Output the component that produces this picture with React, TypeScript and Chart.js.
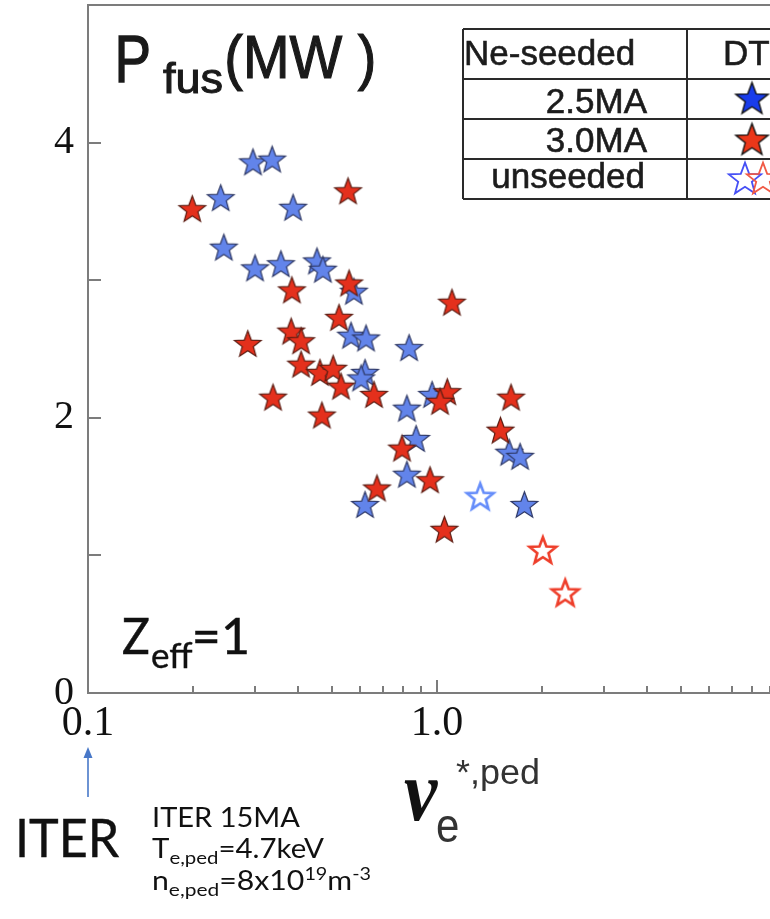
import React, { useEffect, useRef } from 'react';
import { Chart, registerables } from 'chart.js';

Chart.register(...registerables);

// ---------------- data ----------------
const seeded25X = [0.240, 0.297, 0.337, 0.387, 0.245, 0.301, 0.357, 0.453, 0.471, 0.578, 0.567, 0.626, 0.832, 0.622, 0.606, 0.820, 0.968, 0.871, 1.61, 1.73, 0.820, 0.622, 1.78];
const seeded25Y = [3.60, 3.86, 3.88, 3.53, 3.24, 3.09, 3.12, 3.14, 3.08, 2.92, 2.60, 2.58, 2.51, 2.33, 2.29, 2.07, 2.17, 1.85, 1.75, 1.72, 1.59, 1.37, 1.37];

const seeded30X = [0.199, 0.556, 0.560, 0.384, 1.104, 0.524, 0.382, 0.408, 0.287, 0.408, 0.462, 0.504, 0.531, 0.660, 0.339, 0.468, 1.07, 1.02, 1.63, 1.52, 0.794, 0.955, 0.673, 1.05];
const seeded30Y = [3.52, 3.65, 2.98, 2.93, 2.84, 2.73, 2.63, 2.56, 2.54, 2.39, 2.33, 2.36, 2.23, 2.17, 2.15, 2.02, 2.19, 2.12, 2.15, 1.91, 1.78, 1.55, 1.49, 1.19];

const unseeded25X = [1.33];
const unseeded25Y = [1.43];
const unseeded30X = [2.01, 2.33];
const unseeded30Y = [1.04, 0.73];

const xMin = 0.1;
const xMax = 10;
const yMin = 0;
const yMax = 5;
const yLabelValues = [0, 2, 4];
const yTickMarks = [1, 2, 3, 4];
const xLabelValues = [0.1, 1];
const xLabelTexts = ['0.1', '1.0'];
const xMinorTickMarks = [0.2, 0.3, 0.4, 0.5, 0.6, 0.7, 0.8, 0.9, 2, 3, 4, 5, 6, 7, 8, 9];
const xMajorTickMarks = [1];

const tableHeader = ['Ne-seeded', 'DT'];
const tableRows = ['2.5MA', '3.0MA', 'unseeded'];

// ---------------- helpers ----------------
function starPath(g: CanvasRenderingContext2D, cx: number, cy: number, R: number, r: number) {
  g.beginPath();
  for (let i = 0; i < 10; i++) {
    const rad = i % 2 === 0 ? R : r;
    const a = -Math.PI / 2 + (i * Math.PI) / 5;
    const px = cx + rad * Math.cos(a);
    const py = cy + rad * Math.sin(a);
    if (i === 0) g.moveTo(px, py);
    else g.lineTo(px, py);
  }
  g.closePath();
}

function makeStar(R: number, ratio: number, fill: string, stroke: string, lw: number) {
  const size = Math.ceil(2 * R + 2 * lw + 4);
  const c = document.createElement('canvas');
  c.width = size;
  c.height = size;
  const g = c.getContext('2d')!;
  const cx = size / 2;
  const cy = size / 2 + R * 0.095;
  starPath(g, cx, cy, R, R * ratio);
  g.fillStyle = fill;
  g.fill();
  g.lineWidth = lw;
  g.strokeStyle = stroke;
  g.lineJoin = 'miter';
  g.stroke();
  return c;
}

function fitText(ctx: CanvasRenderingContext2D, text: string, font: string, x0: number, y0: number, x1: number, y1: number, color: string, strokeW = 0) {
  ctx.save();
  ctx.font = font;
  ctx.textBaseline = 'alphabetic';
  ctx.textAlign = 'left';
  const m = ctx.measureText(text);
  const w = m.actualBoundingBoxLeft + m.actualBoundingBoxRight;
  const h = m.actualBoundingBoxAscent + m.actualBoundingBoxDescent;
  ctx.translate(x0, y0);
  ctx.scale((x1 - x0) / w, (y1 - y0) / h);
  ctx.fillStyle = color;
  ctx.fillText(text, m.actualBoundingBoxLeft, m.actualBoundingBoxAscent);
  if (strokeW > 0) {
    ctx.strokeStyle = color;
    ctx.lineWidth = strokeW;
    ctx.strokeText(text, m.actualBoundingBoxLeft, m.actualBoundingBoxAscent);
  }
  ctx.restore();
}

type Run = { t: string; s: number; dy?: number };
function drawRuns(ctx: CanvasRenderingContext2D, runs: Run[], family: string, x: number, base: number, targetW: number, color: string) {
  ctx.save();
  ctx.textBaseline = 'alphabetic';
  ctx.textAlign = 'left';
  let total = 0;
  const widths: number[] = [];
  for (const r of runs) {
    ctx.font = `${r.s}px ${family}`;
    const w = ctx.measureText(r.t).width;
    widths.push(w);
    total += w;
  }
  ctx.translate(x, base);
  ctx.scale(targetW / total, 1);
  ctx.fillStyle = color;
  let cx = 0;
  runs.forEach((r, i) => {
    ctx.font = `${r.s}px ${family}`;
    ctx.fillText(r.t, cx, r.dy || 0);
    cx += widths[i];
  });
  ctx.restore();
}

function toPoints(xs: number[], ys: number[]) {
  return xs.map((x, i) => ({ x, y: ys[i] }));
}

export default function App() {
  const ref = useRef<HTMLCanvasElement>(null);

  useEffect(() => {
    const canvas = ref.current!;
    const blueStar = makeStar(14, 0.42, 'rgb(98,132,234)', 'rgb(45,55,100)', 1.2);
    const redStar = makeStar(14, 0.42, 'rgb(228,48,28)', 'rgb(90,28,18)', 1.2);
    const blueOpen = makeStar(14, 0.42, '#ffffff', 'rgb(100,140,250)', 2.6);
    const redOpen = makeStar(14, 0.42, '#ffffff', 'rgb(238,62,42)', 2.6);

    const legBlue = makeStar(17, 0.42, 'rgb(25,60,235)', '#111', 1.4);
    const legRed = makeStar(17, 0.42, 'rgb(235,55,25)', '#111', 1.4);
    const legBlueOpen = makeStar(17, 0.42, 'rgba(255,255,255,0)', 'rgb(70,80,245)', 1.8);
    const legRedOpen = makeStar(17, 0.42, 'rgba(255,255,255,0)', 'rgb(240,90,70)', 1.8);

    const decor = {
      id: 'decor',
      beforeDatasetsDraw(chart: any) {
        const { ctx, chartArea: a, scales } = chart;
        const x = scales.x;
        const y = scales.y;
        ctx.save();
        ctx.strokeStyle = '#7c7c7c';
        ctx.lineWidth = 2;
        ctx.beginPath();
        ctx.moveTo(a.left, a.top);
        ctx.lineTo(a.right, a.top);
        ctx.lineTo(a.right, a.bottom);
        ctx.lineTo(a.left, a.bottom);
        ctx.closePath();
        ctx.stroke();
        ctx.beginPath();
        for (const v of yTickMarks) {
          const py = Math.round(y.getPixelForValue(v));
          ctx.moveTo(a.left, py);
          ctx.lineTo(a.left + 13, py);
        }
        for (const v of xMinorTickMarks) {
          const px = Math.round(x.getPixelForValue(v));
          ctx.moveTo(px, a.bottom);
          ctx.lineTo(px, a.bottom - 7);
        }
        for (const v of xMajorTickMarks) {
          const px = Math.round(x.getPixelForValue(v));
          ctx.moveTo(px, a.bottom);
          ctx.lineTo(px, a.bottom - 13);
        }
        ctx.stroke();
        ctx.restore();
      },
      afterDraw(chart: any) {
        const { ctx, scales } = chart;
        const x = scales.x;
        ctx.save();
        // Title P_fus(MW )
        fitText(ctx, 'P', '62px "Liberation Sans"', 119, 37, 149, 82, '#1a1a1a', 1.2);
        fitText(ctx, 'fus', '42px "Liberation Sans"', 163, 62, 222, 93, '#1a1a1a', 1.0);
        fitText(ctx, '(MW )', '62px "Liberation Sans"', 227, 35, 373, 91, '#1a1a1a', 1.2);

        // Legend table
        ctx.strokeStyle = '#2a2a2a';
        ctx.lineWidth = 2;
        ctx.beginPath();
        const tl = 463, tr = 820, tt = 29, tb = 199, div = 687;
        [tt, 79, 119, 159, tb].forEach((yy) => {
          ctx.moveTo(tl, yy);
          ctx.lineTo(tr, yy);
        });
        ctx.moveTo(tl, tt);
        ctx.lineTo(tl, tb);
        ctx.moveTo(div, tt);
        ctx.lineTo(div, tb);
        ctx.stroke();
        ctx.fillStyle = '#1c1c1c';
        ctx.strokeStyle = '#1c1c1c';
        ctx.lineWidth = 0.6;
        ctx.font = '35px "Liberation Sans"';
        ctx.textBaseline = 'alphabetic';
        ctx.textAlign = 'left';
        const txt = (s: string, xx: number, yy: number) => {
          ctx.fillText(s, xx, yy);
          ctx.strokeText(s, xx, yy);
        };
        txt(tableHeader[0], 464, 65);
        txt(tableHeader[1], 723, 65);
        ctx.textAlign = 'right';
        txt(tableRows[0], 647, 113);
        txt(tableRows[1], 647, 152);
        txt(tableRows[2], 645, 188);
        const img = (c: HTMLCanvasElement, cx: number, cy: number) => ctx.drawImage(c, cx - c.width / 2, cy - c.height / 2);
        img(legBlue, 752, 98);
        img(legRed, 752, 139);
        img(legBlueOpen, 745, 178);
        img(legRedOpen, 763, 178);

        // Z_eff=1
        fitText(ctx, 'Z', '48px "Lato"', 123, 618, 149, 654, '#111', 0.5);
        fitText(ctx, 'eff', '34px "Lato"', 152, 641, 193, 668, '#111', 0.4);
        fitText(ctx, '=1', '48px "Lato"', 195, 618, 247, 654, '#111', 0.5);

        // axis title  nu_e^{*,ped}
        fitText(ctx, 'ν', 'bold italic 60px "Liberation Serif"', 404, 781, 439, 821, '#111');
        fitText(ctx, 'e', '40px "Liberation Sans"', 437, 816, 458, 842, '#333');
        fitText(ctx, '*,ped', '40px "Liberation Sans"', 456, 757, 538, 791, '#333');

        // ITER arrow
        const ax = Math.round(x.getPixelForValue(xMin));
        ctx.strokeStyle = 'rgb(72,120,200)';
        ctx.fillStyle = 'rgb(72,120,200)';
        ctx.lineWidth = 1.6;
        ctx.beginPath();
        ctx.moveTo(ax, 797);
        ctx.lineTo(ax, 756);
        ctx.stroke();
        ctx.beginPath();
        ctx.moveTo(ax, 747);
        ctx.lineTo(ax - 4.5, 758);
        ctx.lineTo(ax + 4.5, 758);
        ctx.closePath();
        ctx.fill();

        // ITER text block
        fitText(ctx, 'ITER', '50px "Lato"', 19, 820, 120, 857, '#111', 0.4);
        drawRuns(ctx, [{ t: 'ITER 15MA', s: 26 }], '"Lato"', 152, 827, 148, '#111');
        drawRuns(ctx, [
          { t: 'T', s: 26 },
          { t: 'e,ped', s: 18, dy: 6 },
          { t: '=4.7keV', s: 26 },
        ], '"Lato"', 152, 858, 172, '#111');
        drawRuns(ctx, [
          { t: 'n', s: 26 },
          { t: 'e,ped', s: 18, dy: 6 },
          { t: '=8x10', s: 26 },
          { t: '19', s: 17, dy: -10 },
          { t: 'm', s: 26 },
          { t: '-3', s: 17, dy: -10 },
        ], '"Lato"', 152, 890, 219, '#111');
        ctx.restore();
      },
    };

    const chart = new Chart(canvas, {
      type: 'scatter',
      data: {
        datasets: [
          { label: '3.0MA', data: toPoints(seeded30X, seeded30Y), pointStyle: redStar as any, pointRadius: 14 },
          { label: '2.5MA', data: toPoints(seeded25X, seeded25Y), pointStyle: blueStar as any, pointRadius: 14 },
          { label: 'unseeded 2.5MA', data: toPoints(unseeded25X, unseeded25Y), pointStyle: blueOpen as any, pointRadius: 14 },
          { label: 'unseeded 3.0MA', data: toPoints(unseeded30X, unseeded30Y), pointStyle: redOpen as any, pointRadius: 14 },
        ],
      },
      options: {
        responsive: false,
        animation: false,
        devicePixelRatio: 1,
        events: [],
        layout: { autoPadding: false, padding: { top: 5, right: 14, left: 0, bottom: 0 } },
        plugins: { legend: { display: false }, tooltip: { enabled: false } },
        scales: {
          x: {
            type: 'logarithmic',
            min: xMin,
            max: xMax,
            grid: { display: false, drawTicks: false },
            border: { display: false },
            ticks: {
              autoSkip: false,
              maxRotation: 0,
              padding: 10,
              color: '#111',
              font: { family: '"Liberation Serif"', size: 42, lineHeight: 1 },
              callback: (v: any) => {
                const i = xLabelValues.findIndex((t) => Math.abs(t - Number(v)) < 1e-9);
                return i >= 0 ? xLabelTexts[i] : null;
              },
            },
            afterFit: (s: any) => {
              s.height = 226;
              s.paddingLeft = 0;
              s.paddingRight = 0;
            },
          },
          y: {
            type: 'linear',
            min: yMin,
            max: yMax,
            grid: { display: false, drawTicks: false },
            border: { display: false },
            ticks: {
              stepSize: 1,
              padding: 14,
              color: '#111',
              font: { family: '"Liberation Serif"', size: 40, lineHeight: 1 },
              callback: (v: any) => (yLabelValues.includes(Number(v)) ? String(v) : null),
            },
            afterFit: (s: any) => {
              s.width = 88;
              s.paddingTop = 0;
              s.paddingBottom = 0;
            },
          },
        },
      },
      plugins: [decor],
    } as any);

    return () => chart.destroy();
  }, []);

  return (
    <div style={{ position: 'fixed', left: 0, top: 0, width: 770, height: 919, overflow: 'hidden', background: '#fff' }}>
      <canvas ref={ref} width={800} height={919} style={{ display: 'block', width: 800, height: 919 }} />
    </div>
  );
}
